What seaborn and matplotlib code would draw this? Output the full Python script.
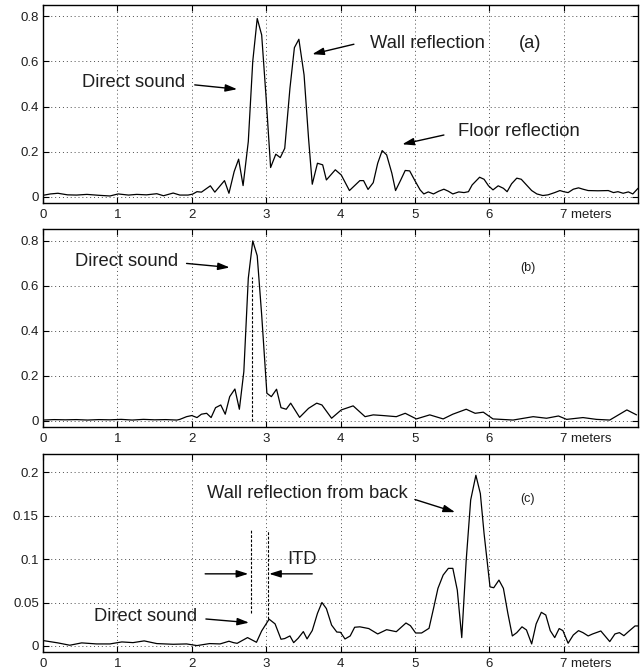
import matplotlib
matplotlib.use("Agg")
import matplotlib.pyplot as plt
import matplotlib.transforms as mtransforms
import seaborn as sns
import pandas as pd

# ---------------- data ----------------
a_x = [0.0, 0.1, 0.2, 0.33, 0.45, 0.59, 0.75, 0.9, 1.01, 1.15, 1.26, 1.39, 1.53, 1.62, 1.75, 1.84, 1.95,
       2.01, 2.07, 2.13, 2.25, 2.31, 2.44, 2.50, 2.57, 2.63, 2.69, 2.76, 2.82, 2.88, 2.94, 3.00, 3.06,
       3.13, 3.19, 3.25, 3.32, 3.38, 3.44, 3.51, 3.57, 3.62, 3.69, 3.76, 3.81, 3.93, 4.01, 4.12, 4.26,
       4.31, 4.37, 4.44, 4.50, 4.56, 4.62, 4.69, 4.74, 4.81, 4.87, 4.93, 5.00, 5.07, 5.12, 5.18, 5.25,
       5.32, 5.39, 5.45, 5.51, 5.59, 5.66, 5.72, 5.77, 5.87, 5.93, 5.99, 6.05, 6.12, 6.19, 6.24, 6.30,
       6.37, 6.43, 6.50, 6.57, 6.64, 6.72, 6.79, 6.88, 6.95, 7.00, 7.06, 7.13, 7.20, 7.26, 7.33, 7.46,
       7.60, 7.67, 7.73, 7.80, 7.87, 7.93, 8.00]
a_y = [0.007, 0.013, 0.016, 0.009, 0.008, 0.011, 0.007, 0.004, 0.013, 0.008, 0.011, 0.009, 0.014, 0.005, 0.017, 0.008, 0.008,
       0.012, 0.023, 0.021, 0.049, 0.021, 0.072, 0.016, 0.112, 0.167, 0.050, 0.245, 0.600, 0.790, 0.717, 0.437, 0.130,
       0.189, 0.174, 0.215, 0.481, 0.661, 0.698, 0.540, 0.260, 0.056, 0.149, 0.142, 0.075, 0.120, 0.097, 0.028, 0.072,
       0.072, 0.033, 0.063, 0.149, 0.205, 0.186, 0.105, 0.028, 0.075, 0.117, 0.115, 0.072, 0.031, 0.013, 0.022, 0.013,
       0.025, 0.034, 0.025, 0.013, 0.022, 0.019, 0.023, 0.053, 0.087, 0.078, 0.049, 0.031, 0.049, 0.038, 0.023, 0.058,
       0.083, 0.078, 0.053, 0.028, 0.013, 0.006, 0.009, 0.019, 0.028, 0.023, 0.019, 0.034, 0.040, 0.034, 0.028, 0.027,
       0.028, 0.019, 0.023, 0.016, 0.022, 0.013, 0.038]

b_x = [0.0, 0.15, 0.3, 0.45, 0.6, 0.75, 0.9, 1.05, 1.2, 1.35, 1.5, 1.65, 1.8,
       1.84, 1.93, 2.00, 2.07, 2.13, 2.20, 2.26, 2.32, 2.39, 2.45, 2.51, 2.58, 2.64, 2.70, 2.76, 2.82,
       2.88, 2.94, 3.01, 3.07, 3.14, 3.20, 3.27, 3.33, 3.45, 3.57, 3.68, 3.75, 3.88, 4.01, 4.17, 4.33,
       4.44, 4.57, 4.75, 4.87, 5.02, 5.20, 5.38, 5.51, 5.69, 5.81, 5.92, 6.05, 6.32, 6.59, 6.77, 6.93,
       7.04, 7.26, 7.44, 7.62, 7.85, 7.98]
b_y = [0.004, 0.006, 0.005, 0.006, 0.004, 0.006, 0.005, 0.007, 0.004, 0.007, 0.005, 0.006, 0.004,
       0.007, 0.019, 0.024, 0.015, 0.030, 0.034, 0.015, 0.059, 0.071, 0.030, 0.108, 0.142, 0.052, 0.219, 0.634, 0.800,
       0.734, 0.471, 0.123, 0.108, 0.141, 0.059, 0.052, 0.079, 0.016, 0.056, 0.079, 0.071, 0.012, 0.049, 0.067, 0.019,
       0.027, 0.024, 0.019, 0.034, 0.009, 0.027, 0.009, 0.030, 0.052, 0.034, 0.039, 0.009, 0.004, 0.019, 0.012, 0.022,
       0.007, 0.015, 0.007, 0.004, 0.049, 0.027]

c_x = [0.0, 0.2, 0.36, 0.52, 0.72, 0.90, 1.06, 1.21, 1.36, 1.53, 1.75, 1.93, 2.07, 2.24, 2.38, 2.50,
       2.56, 2.61, 2.75, 2.87, 2.94, 3.04, 3.12, 3.20, 3.25, 3.32, 3.37, 3.43, 3.50, 3.55, 3.62, 3.69,
       3.75, 3.81, 3.88, 3.95, 4.00, 4.06, 4.13, 4.19, 4.26, 4.38, 4.50, 4.62, 4.75, 4.88, 4.94, 5.01,
       5.09, 5.19, 5.25, 5.31, 5.38, 5.45, 5.51, 5.57, 5.63, 5.69, 5.75, 5.82, 5.88, 5.93, 6.01, 6.06,
       6.13, 6.19, 6.25, 6.31, 6.37, 6.44, 6.50, 6.57, 6.63, 6.70, 6.76, 6.82, 6.88, 6.94, 6.99, 7.06,
       7.13, 7.20, 7.26, 7.33, 7.39, 7.50, 7.62, 7.69, 7.75, 7.81, 7.87, 7.96, 8.00]
c_y = [0.0062, 0.0035, 0.0008, 0.0035, 0.0023, 0.0023, 0.0046, 0.0038, 0.0058, 0.0027, 0.0019, 0.0023, 0.0004, 0.0027, 0.0023, 0.0054,
       0.0038, 0.0030, 0.0096, 0.0042, 0.0173, 0.0308, 0.0254, 0.0077, 0.0085, 0.0115, 0.0038, 0.0088, 0.0165, 0.0081, 0.0177, 0.0375,
       0.0500, 0.0430, 0.0240, 0.0160, 0.0157, 0.0080, 0.0115, 0.0215, 0.0220, 0.0200, 0.0138, 0.0187, 0.0164, 0.0264, 0.0233, 0.0149,
       0.0149, 0.0203, 0.0430, 0.0663, 0.0816, 0.0893, 0.0893, 0.0643, 0.0096, 0.0988, 0.1680, 0.1965, 0.1754, 0.1295, 0.0680, 0.0670,
       0.0758, 0.0663, 0.0375, 0.0115, 0.0153, 0.0220, 0.0184, 0.0023, 0.0253, 0.0387, 0.0356, 0.0176, 0.0096, 0.0200, 0.0176, 0.0031,
       0.0126, 0.0176, 0.0153, 0.0115, 0.0138, 0.0172, 0.0050, 0.0138, 0.0153, 0.0118, 0.0164, 0.0230, 0.0230]

x_ticks = [0, 1, 2, 3, 4, 5, 6, 7]
x_tick_labels = ["0", "1", "2", "3", "4", "5", "6", "7 meters"]
ab_y_ticks = [0, 0.2, 0.4, 0.6, 0.8]
ab_y_tick_labels = ["0", "0.2", "0.4", "0.6", "0.8"]
c_y_ticks = [0, 0.05, 0.1, 0.15, 0.2]
c_y_tick_labels = ["0", "0.05", "0.1", "0.15", "0.2"]

# ---------------- style ----------------
sns.set_style("ticks")
plt.rcParams["font.family"] = ["Liberation Sans", "DejaVu Sans"]

fig = plt.figure(figsize=(6.42, 6.69), dpi=100)
left, width, height = 0.067, 0.9268, 0.296
bottoms = [0.6966, 0.3617, 0.0254]
axes = [fig.add_axes([left, b, width, height]) for b in bottoms]

series = [(a_x, a_y), (b_x, b_y), (c_x, c_y)]
ylims = [(-0.027, 0.85), (-0.027, 0.853), (-0.007, 0.221)]
yt = [(ab_y_ticks, ab_y_tick_labels), (ab_y_ticks, ab_y_tick_labels), (c_y_ticks, c_y_tick_labels)]
text_color = "0.12"

for ax, (xs, ys), yl, (ytk, ytl) in zip(axes, series, ylims, yt):
    df = pd.DataFrame({"x": xs, "y": ys})
    sns.lineplot(data=df, x="x", y="y", ax=ax, color="black", linewidth=0.9,
                 estimator=None, sort=False)
    ax.set_xlim(0, 8)
    ax.set_ylim(*yl)
    ax.set_xticks(x_ticks)
    ax.set_xticklabels(x_tick_labels)
    ax.set_yticks(ytk)
    ax.set_yticklabels(ytl)
    ax.set_xlabel("")
    ax.set_ylabel("")
    ax.tick_params(direction="in", top=True, right=True, length=4, width=0.8,
                   labelsize=9.5, colors="black", labelcolor=text_color, pad=3)
    ax.tick_params(axis="x", pad=4)
    ax.grid(True, linestyle=(0, (1, 3)), linewidth=0.7, color="0.3")
    for sp in ax.spines.values():
        sp.set_linewidth(1.0)
        sp.set_color("black")
    last = ax.get_xticklabels()[-1]
    last.set_horizontalalignment("left")
    last.set_transform(last.get_transform() +
                       mtransforms.ScaledTranslation(-3.5 / 100, 0, fig.dpi_scale_trans))

arrow = dict(arrowstyle="-|>,head_length=0.7,head_width=0.22", color="black",
             lw=1.0, shrinkA=0, shrinkB=0)
fs = 13.2

def label(ax, x, y, s, size=fs, ha="left"):
    ax.text(x, y, s, fontsize=size, va="center", ha=ha, color=text_color)

# panel (a)
ax = axes[0]
label(ax, 0.53, 0.506, "Direct sound")
ax.annotate("", xy=(2.61, 0.477), xytext=(2.04, 0.496), arrowprops=arrow)
label(ax, 4.40, 0.68, "Wall reflection")
ax.annotate("", xy=(3.62, 0.632), xytext=(4.18, 0.676), arrowprops=arrow)
label(ax, 6.55, 0.68, "(a)", ha="center")
label(ax, 5.58, 0.289, "Floor reflection")
ax.annotate("", xy=(4.83, 0.233), xytext=(5.39, 0.274), arrowprops=arrow)

# panel (b)
ax = axes[1]
label(ax, 0.43, 0.707, "Direct sound")
ax.annotate("", xy=(2.51, 0.682), xytext=(1.93, 0.70), arrowprops=arrow)
label(ax, 6.52, 0.678, "(b)", size=9, ha="center")
ax.plot([2.81, 2.81], [0, 0.64], color="black", linewidth=0.8, linestyle=(0, (2.5, 1.5)))

# panel (c)
ax = axes[2]
label(ax, 2.21, 0.1755, "Wall reflection from back")
ax.annotate("", xy=(5.54, 0.154), xytext=(5.00, 0.1686), arrowprops=arrow)
label(ax, 6.51, 0.1686, "(c)", size=9, ha="center")
label(ax, 0.69, 0.0337, "Direct sound")
ax.annotate("", xy=(2.77, 0.0268), xytext=(2.19, 0.031), arrowprops=arrow)
ax.plot([2.79, 2.79], [0.038, 0.133], color="black", linewidth=0.8, linestyle=(0, (2.5, 1.5)))
ax.plot([3.02, 3.02], [0.031, 0.133], color="black", linewidth=0.8, linestyle=(0, (2.5, 1.5)))
ax.annotate("", xy=(2.76, 0.083), xytext=(2.18, 0.083), arrowprops=arrow)
ax.annotate("", xy=(3.04, 0.083), xytext=(3.62, 0.083), arrowprops=arrow)
label(ax, 3.48, 0.0997, "ITD", ha="center")

fig.savefig("out.png", dpi=100)
